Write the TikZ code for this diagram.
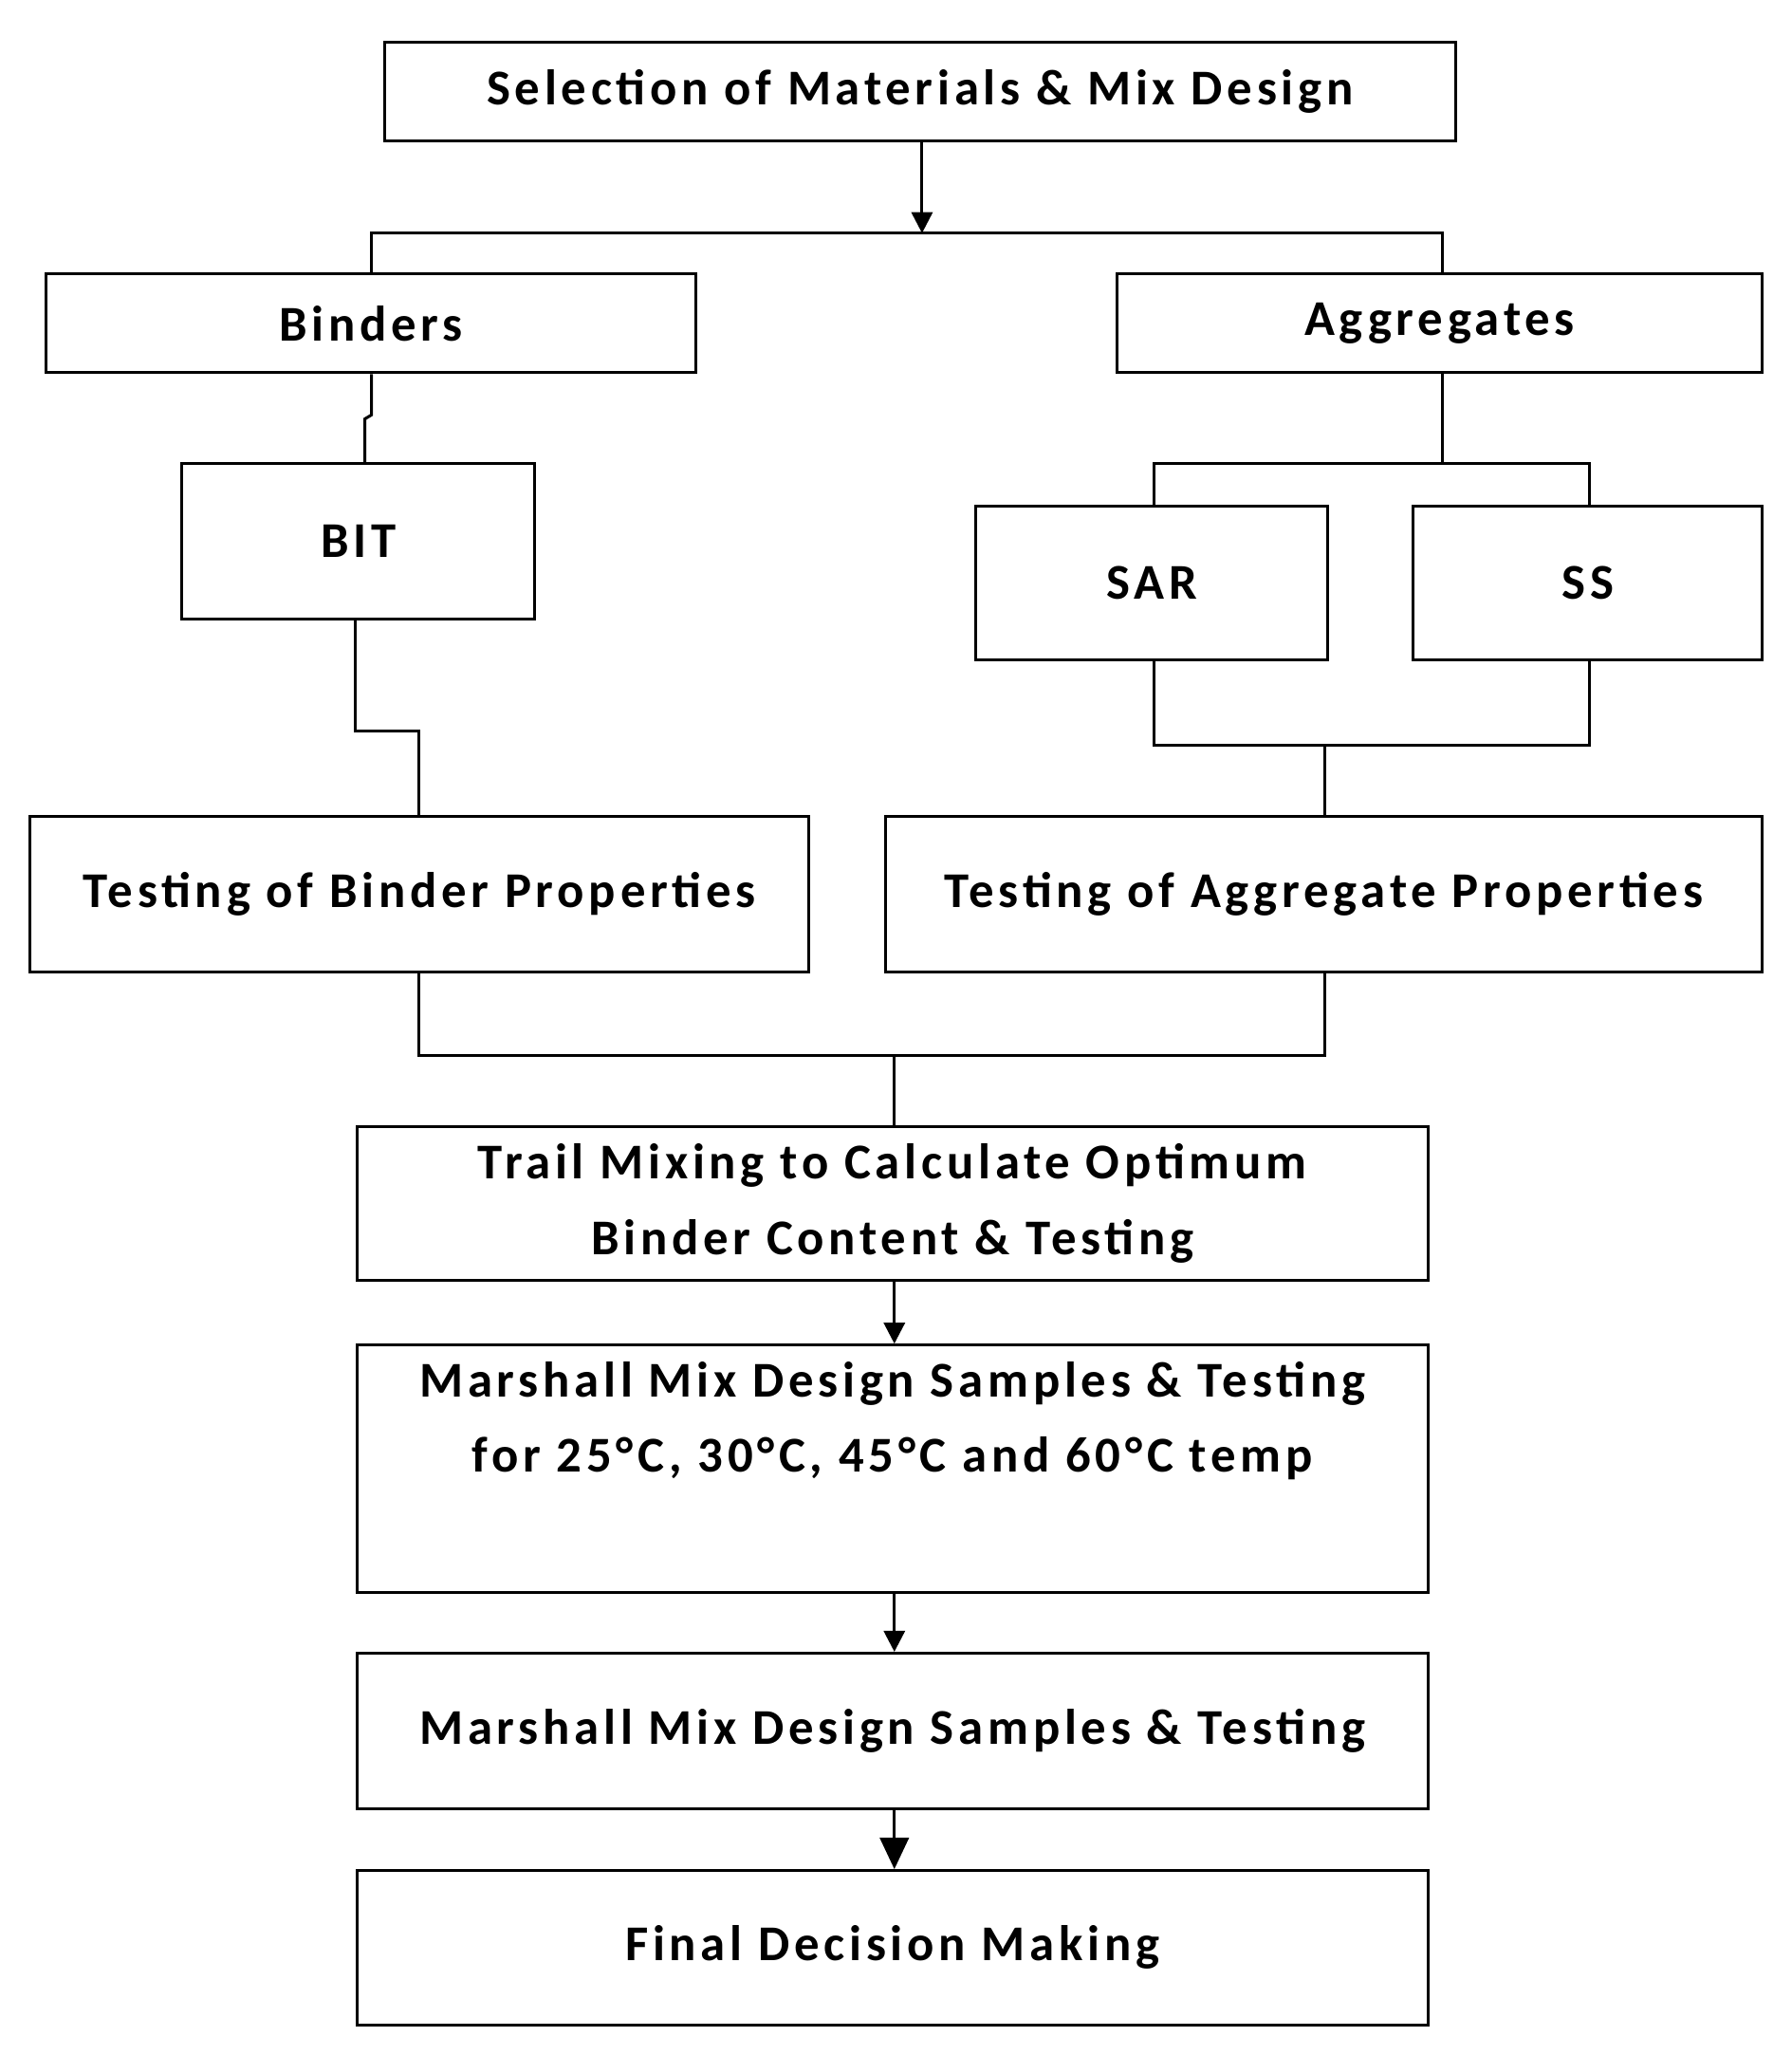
\documentclass[tikz,border=0pt]{standalone}
\usepackage{fontspec}
\setmainfont{Carlito}
\newfontfamily\lsfont{Carlito}[LetterSpace=9]
\usetikzlibrary{arrows.meta}
\begin{document}
\begin{tikzpicture}[x=1pt,y=-1pt,
 box/.style={draw,line width=2.2pt,inner sep=0pt,align=center,font=\lsfont\bfseries\fontsize{38}{57}\selectfont},
 ln/.style={line width=2.2pt},
 ar/.style={line width=2.2pt,-{Triangle[length=16pt,width=16pt]}}]
\useasboundingbox (0,0) rectangle (1360,1560);
\node[box,minimum width=813pt,minimum height=75pt] (sel) at (698.5,69.5) {Selection of Materials \& Mix Design};
\node[box,minimum width=493pt,minimum height=75pt] (bin) at (281.5,245.5) {Binders};
\node[box,minimum width=490pt,minimum height=75pt] (agg) at (1093,245.5) {Aggregates};
\node[box,minimum width=268pt,minimum height=118pt] (bit) at (272,411) {BIT};
\node[box,minimum width=267pt,minimum height=117pt] (sar) at (874.5,442.5) {SAR};
\node[box,minimum width=265pt,minimum height=117pt] (ss) at (1205.5,442.5) {SS};
\node[box,minimum width=591pt,minimum height=118pt] (tbp) at (318.5,679) {Testing of Binder Properties};
\node[box,minimum width=666pt,minimum height=118pt] (tap) at (1005,679) {Testing of Aggregate Properties};
\node[box,minimum width=813pt,minimum height=117pt] (trail) at (677.5,913.5) {Trail Mixing to Calculate Optimum\\Binder Content \& Testing};
\node[box,minimum width=813pt,minimum height=188pt,anchor=north] (m1) at (677.5,1020) {};
\node[font=\lsfont\bfseries\fontsize{38}{57}\selectfont,align=center,anchor=north] (m1t) at (677.5,1030) {Marshall Mix Design Samples \& Testing\\for 25°C, 30°C, 45°C and 60°C temp};
\node[box,minimum width=813pt,minimum height=118pt] (m2) at (677.5,1314) {Marshall Mix Design Samples \& Testing};
\node[box,minimum width=813pt,minimum height=117pt] (fin) at (677.5,1478.5) {Final Decision Making};
\coordinate (j1) at (700,177);
\draw[ar] (sel.south -| j1) -- (j1);
\draw[ln] (bin.north -| 282,0) -- (282,177) -- (1095,177) -- (agg.north -| 1095,0);
\draw[ln] (bin.south -| 282,0) -- (282,315) -- (277,318) -- (bit.north -| 277,0);
\draw[ln] (bit.south -| 270,0) -- (270,555) -- (318,555) -- (tbp.north -| 318,0);
\draw[ln] (agg.south -| 1095,0) -- (1095,352);
\draw[ln] (sar.north -| 876,0) -- (876,352) -- (1207,352) -- (ss.north -| 1207,0);
\draw[ln] (sar.south -| 876,0) -- (876,566) -- (1207,566) -- (ss.south -| 1207,0);
\draw[ln] (1006,566) -- (tap.north -| 1006,0);
\draw[ln] (tbp.south -| 318,0) -- (318,801) -- (1006,801) -- (tap.south -| 1006,0);
\draw[ln] (679,801) -- (trail.north -| 679,0);
\draw[ar] (trail.south -| 679,0) -- (m1.north -| 679,0);
\draw[ar] (m1.south -| 679,0) -- (m2.north -| 679,0);
\draw[line width=2.2pt,-{Triangle[length=24pt,width=22pt]}] (m2.south -| 679,0) -- (fin.north -| 679,0);
\end{tikzpicture}
\end{document}
